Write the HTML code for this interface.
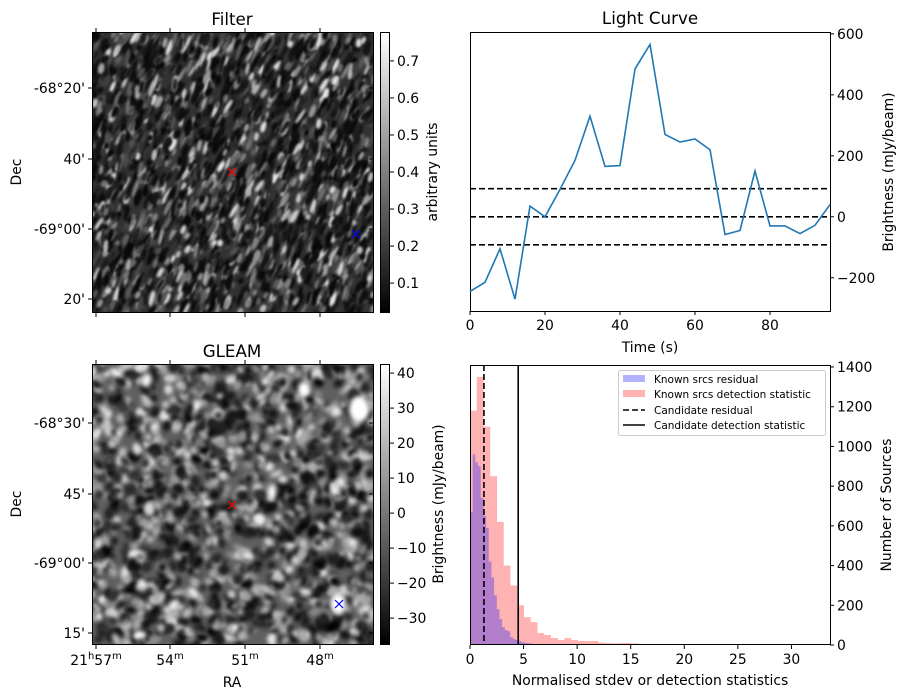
<!DOCTYPE html>
<html><head><meta charset="utf-8"><style>
body{margin:0;background:#fff;width:907px;height:699px;position:relative;overflow:hidden;font-family:"Liberation Sans","DejaVu Sans",sans-serif}
canvas{position:absolute}
svg{position:absolute;left:0;top:0}
text{font-family:"DejaVu Sans","Liberation Sans",sans-serif;fill:#000}
</style></head><body>
<canvas id="filterImg" width="281" height="280" style="left:92px;top:32px"></canvas>
<canvas id="gleamImg" width="281" height="280" style="left:92px;top:364px"></canvas>
<svg id="svg" width="907" height="699">
<defs><linearGradient id="gray" x1="0" y1="1" x2="0" y2="0"><stop offset="0" stop-color="#000"/><stop offset="1" stop-color="#fff"/></linearGradient></defs>
</svg>
<script>
// ---- Light curve data ----
const lcTimes=[0,4,8,12,16,20,24,28,32,36,40,44,48,52,56,60,64,68,72,76,80,84,88,92,96];
const lcValues=[-245,-215,-105,-270,35,0,90,185,330,165,168,485,565,270,245,255,220,-58,-45,150,-30,-30,-55,-28,40];
const lcThresholds=[92,0,-92];
const lcXTicks=[0,20,40,60,80];
const lcYTicks=[-200,0,200,400,600];
// ---- Histogram data ----
const redBinWidth=0.63;
const redCounts=[1180,1350,1100,850,620,400,300,200,140,115,60,50,35,25,35,25,20,20,20,12,10,8,10,10,8,5,5,5,5,5,5,5,5,5,5,5,5,0,5,5,5,5,5,0,5,5,5,5,5,0,5];
const blueBinWidth=0.25;
const blueCounts=[670,960,920,900,740,650,590,420,340,250,180,130,90,75,70,40,30,25,20,15,12,10,8,6,5,5,5,4,4,3,3,3,2,2,2,2,2,1,1,1];
const candResidual=1.3;
const candDetection=4.5;
const histXTicks=[0,5,10,15,20,25,30];
const histYTicks=[0,200,400,600,800,1000,1200,1400];
// ---- Colorbar ticks ----
const filterCbTicks=[0.1,0.2,0.3,0.4,0.5,0.6,0.7];
const gleamCbTicks=[-30,-20,-10,0,10,20,30,40];

const FS=13.9;
const svg=document.getElementById('svg');
const NS='http://www.w3.org/2000/svg';
function el(tag,attrs,parent){const e=document.createElementNS(NS,tag);for(const k in attrs)e.setAttribute(k,attrs[k]);(parent||svg).appendChild(e);return e;}
function txt(x,y,s,anchor,name,extra,size){const t=el('text',Object.assign({x:x,y:y,'text-anchor':anchor||'middle'},extra||{}));t.textContent=s;
t.style.fontSize=(size||FS)+'px';


return t;}

let seed=12345;function rnd(){seed=(seed*1103515245+12345)%2147483648;return seed/2147483648;}

// Filter texture
(function(){const c=document.getElementById('filterImg').getContext('2d');
c.fillStyle='#333';c.fillRect(0,0,281,280);
c.filter='blur(1.3px)';
for(let i=0;i<3000;i++){const x=rnd()*281,y=rnd()*280;const r=rnd();const g=Math.floor(10+r*r*r*230);
c.fillStyle=`rgb(${g},${g},${g})`;c.save();c.translate(x,y);c.rotate(0.15+rnd()*0.5);c.beginPath();c.ellipse(0,0,1.5+rnd()*1.5,3+rnd()*6,0,0,7);c.fill();c.restore();}
c.filter='none';})();
// GLEAM texture
(function(){const c=document.getElementById('gleamImg').getContext('2d');
c.fillStyle='#606060';c.fillRect(0,0,281,280);
c.filter='blur(2px)';
for(let i=0;i<1800;i++){const x=rnd()*281,y=rnd()*280;const g=rnd()<0.55?Math.floor(rnd()*50):Math.floor(140+rnd()*110);
c.fillStyle=`rgb(${g},${g},${g})`;c.beginPath();c.ellipse(x,y,2+rnd()*3,3+rnd()*4,rnd()*3,0,7);c.fill();}
c.fillStyle='#fff';c.beginPath();c.ellipse(267,45,10,13,0,0,7);c.fill();
c.beginPath();c.ellipse(246,240,8,10,0,0,7);c.fill();
c.beginPath();c.ellipse(212,25,6,7,0,0,7);c.fill();
c.beginPath();c.ellipse(180,128,4,8,0,0,7);c.fill();
c.filter='none';})();

// ---- Image panels ----
function imagePanel(top,title,decLabels,decY,cbTicks,cbMin,cbMax,cbLabel,red,blue,prefix){
  el('rect',{x:92.5,y:top+0.5,width:281,height:280,fill:'none',stroke:'#000','stroke-width':1,});
  txt(232,top-7,title,'middle',prefix+'-title',{},16.7);
  decLabels.forEach((l,i)=>{txt(85,decY[i]+5,l,'end',prefix+'-dec-tick');el('line',{x1:88,x2:92,y1:decY[i],y2:decY[i],stroke:'#000'});el('line',{x1:373,x2:369,y1:decY[i],y2:decY[i],stroke:'#000'});});
  txt(21,top+140,'Dec','middle',prefix+'-y-axis-title',{transform:`rotate(-90 21 ${top+140})`});
  [96,170,245,320].forEach(x=>{el('line',{x1:x,x2:x,y1:top+280,y2:top+285,stroke:'#000'});el('line',{x1:x,x2:x,y1:top,y2:top-4,stroke:'#000'});});
  [[red,'red',prefix+'-candidate-marker'],[blue,'blue',prefix+'-reference-marker']].forEach(([p,col,n])=>{
    const g=el('g',{stroke:col,'stroke-width':1.2});
    
    
    el('line',{x1:p[0]-4,y1:p[1]-4,x2:p[0]+4,y2:p[1]+4},g);el('line',{x1:p[0]-4,y1:p[1]+4,x2:p[0]+4,y2:p[1]-4},g);});
  el('rect',{x:380.5,y:top+0.5,width:9,height:280,fill:'url(#gray)',stroke:'#000',});
  const cy=v=>top+280-(v-cbMin)/(cbMax-cbMin)*280;
  cbTicks.forEach(v=>{const y=cy(v);el('line',{x1:390,x2:394,y1:y,y2:y,stroke:'#000'});
    txt(397,y+5,String(v).replace('-','\u2212'),'start',prefix+'-colorbar-tick');});
  const lx=prefix==='filter'?437:443;
  txt(lx,top+140,cbLabel,'middle',prefix+'-colorbar-label',{transform:`rotate(-90 ${lx} ${top+140})`});
}
imagePanel(32,'Filter',["-68°20'","40'","-69°00'","20'"],[88,159,229,299],filterCbTicks,0.022,0.778,'arbitrary units',[232,172],[356,234],'filter');
imagePanel(364,'GLEAM',["-68°30'","45'","-69°00'","15'"],[423,494,563,633],gleamCbTicks,-37.4,42.6,'Brightness (mJy/beam)',[232,505],[339,604],'gleam');
[['21','57',96],['','54',170],['','51',245],['','48',320]].forEach(([h,m,x])=>{
  const t=el('text',{x:x,y:665,'text-anchor':'middle'});t.style.fontSize=FS+'px';
  t.innerHTML=(h?'21<tspan dy="-6" style="font-size:10px">h</tspan><tspan dy="6">'+m+'</tspan>':m)+'<tspan dy="-6" style="font-size:10px">m</tspan>';});
txt(232,687,'RA','middle','ra-axis-title');

// ---- Light curve ----
const LC={x0:470,x1:830,y0:32,y1:311,xmin:0,xmax:96,ymin:-309,ymax:606};
const lx=v=>LC.x0+(v-LC.xmin)/(LC.xmax-LC.xmin)*(LC.x1-LC.x0);
const ly=v=>LC.y1-(v-LC.ymin)/(LC.ymax-LC.ymin)*(LC.y1-LC.y0);
el('rect',{x:470.5,y:32.5,width:360,height:279,fill:'none',stroke:'#000',});
lcThresholds.forEach(v=>{const l=el('line',{x1:470,x2:830,y1:ly(v),y2:ly(v),stroke:'#000','stroke-width':1.6,'stroke-dasharray':'6,3'});
  });
const pl=el('polyline',{points:lcTimes.map((t,i)=>lx(t)+','+ly(lcValues[i])).join(' '),fill:'none',stroke:'#1f77b4','stroke-width':1.6});

lcXTicks.forEach(v=>{el('line',{x1:lx(v),x2:lx(v),y1:311,y2:315,stroke:'#000'});txt(lx(v),330,String(v),'middle','lc-x-tick');});
lcYTicks.forEach(v=>{el('line',{x1:830,x2:834,y1:ly(v),y2:ly(v),stroke:'#000'});txt(837,ly(v)+5,String(v).replace('-','\u2212'),'start','lc-y-tick');});
txt(650,352,'Time (s)','middle','lc-x-axis-title');
txt(650,24,'Light Curve','middle','lc-title',{},16.7);
txt(893,172,'Brightness (mJy/beam)','middle','lc-y-axis-title',{transform:'rotate(-90 893 172)'});

// ---- Histogram ----
const H={x0:470,x1:830,y0:365,y1:645,xmax:33.6,ymax:1410};
const hx=v=>H.x0+v/H.xmax*(H.x1-H.x0);
const hy=v=>H.y1-v/H.ymax*(H.y1-H.y0);
redCounts.forEach((c,i)=>{if(!c)return;const r=el('rect',{x:hx(i*redBinWidth),y:hy(c),width:hx((i+1)*redBinWidth)-hx(i*redBinWidth),height:H.y1-hy(c),fill:'#ff0000','fill-opacity':0.3});
  });
blueCounts.forEach((c,i)=>{if(!c)return;const r=el('rect',{x:hx(i*blueBinWidth),y:hy(c),width:hx((i+1)*blueBinWidth)-hx(i*blueBinWidth),height:H.y1-hy(c),fill:'#0000ff','fill-opacity':0.3});
  });
const cr=el('line',{x1:hx(candResidual),x2:hx(candResidual),y1:365,y2:645,stroke:'#000','stroke-width':1.6,'stroke-dasharray':'6,3'});

const cd=el('line',{x1:hx(candDetection),x2:hx(candDetection),y1:365,y2:645,stroke:'#000','stroke-width':1.6});

el('rect',{x:470.5,y:365.5,width:360,height:279,fill:'none',stroke:'#000',});
histXTicks.forEach(v=>{el('line',{x1:hx(v),x2:hx(v),y1:645,y2:649,stroke:'#000'});txt(hx(v),664,String(v),'middle','hist-x-tick');});
histYTicks.forEach(v=>{el('line',{x1:830,x2:834,y1:hy(v),y2:hy(v),stroke:'#000'});txt(837,hy(v)+5,String(v),'start','hist-y-tick');});
txt(650,685,'Normalised stdev or detection statistics','middle','hist-x-axis-title');
txt(891,505,'Number of Sources','middle','hist-y-axis-title',{transform:'rotate(-90 891 505)'});
const lg=el('g',{});
el('rect',{x:618.5,y:370.5,width:207,height:65,rx:2,fill:'#fff','fill-opacity':0.8,stroke:'#ccc'},lg);
el('rect',{x:623,y:375,width:22,height:7,fill:'#0000ff','fill-opacity':0.3},lg);
el('rect',{x:623,y:390,width:22,height:7,fill:'#ff0000','fill-opacity':0.3},lg);
el('line',{x1:623,x2:645,y1:410,y2:410,stroke:'#000','stroke-width':1.6,'stroke-dasharray':'6,3'},lg);
el('line',{x1:623,x2:645,y1:425,y2:425,stroke:'#000','stroke-width':1.6},lg);
[['Known srcs residual',383],['Known srcs detection statistic',398],['Candidate residual',414],['Candidate detection statistic',429]].forEach(([s,y])=>{
  const t=txt(654,y,s,'start','legend-entry',{},10.5);lg.appendChild(t);});
</script>
</body></html>
